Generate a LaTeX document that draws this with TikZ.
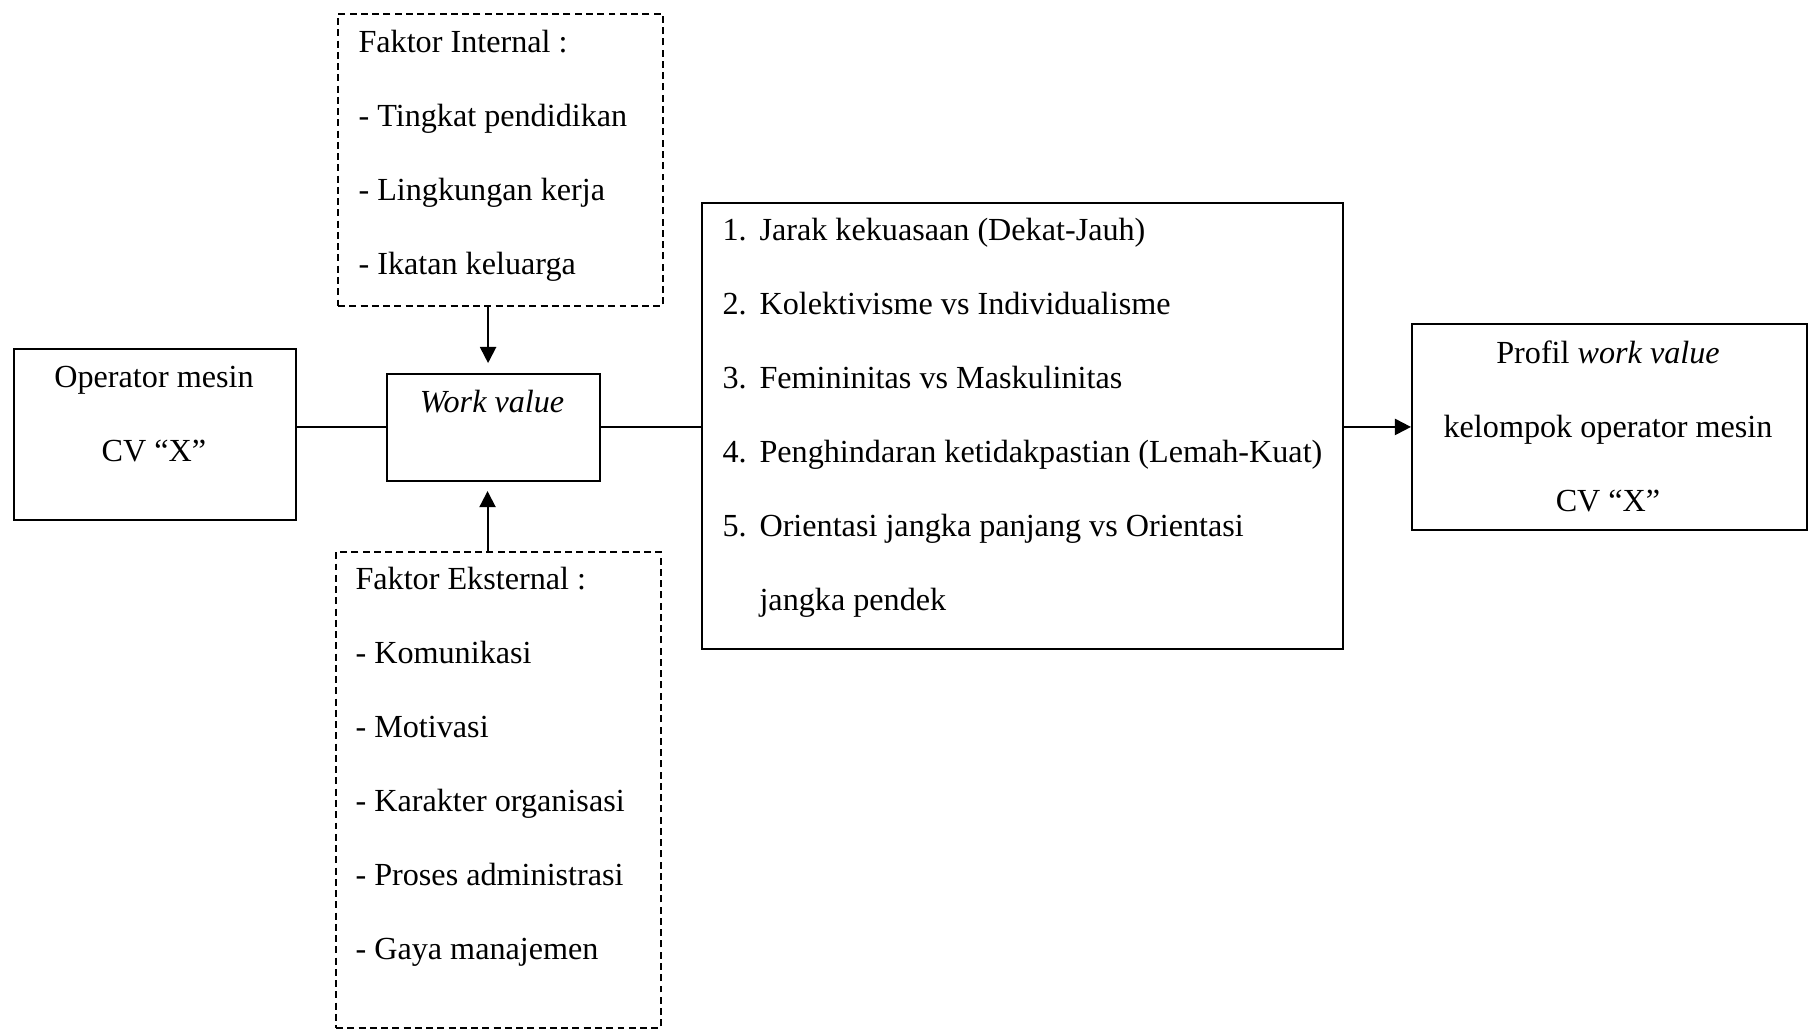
\documentclass[tikz,border=0pt]{standalone}
\usepackage{fontspec}
\setmainfont{Liberation Serif}
\usetikzlibrary{arrows.meta}
\tikzset{%
  >={Triangle[width=6pt,length=6pt]},
  % Specifications for style of boxes and texts:
       box/.style = {rectangle, draw=black, line width=0.75pt,
                     anchor=north west, inner sep=0pt},
   solidbox/.style = {box},
    dashbox/.style = {box, dash pattern=on 2.6pt off 1.6pt},
   boxtext/.style = {inner sep=0pt, font=\fontsize{12}{27.6}\selectfont},
  listtext/.style = {boxtext, align=left, anchor=north west},
      link/.style = {line width=0.75pt}
}
\newcommand{\itemno}[1]{\makebox[13.8pt][l]{#1}}

\begin{document}
\begin{tikzpicture}[x=0.373pt, y=-0.373pt]
  \useasboundingbox (0,0) rectangle (1810,1029);

  \node (operator) [solidbox, minimum width=105.2pt, minimum height=63.8pt] at (13,348) {};
  \node (wv)       [solidbox, minimum width=79.4pt,  minimum height=39.9pt] at (386,373) {};
  \node (internal) [dashbox,  minimum width=121.2pt, minimum height=108.9pt] at (337,13) {};
  \node (external) [dashbox,  minimum width=121.2pt, minimum height=177.5pt] at (335,551) {};
  \node (dimension)[solidbox, minimum width=239.1pt, minimum height=166.4pt] at (701,202) {};
  \node (profile)  [solidbox, minimum width=147.3pt, minimum height=76.8pt] at (1411,323) {};

  \node (operatortext) [boxtext, align=center, anchor=north] at (154,366)
        {Operator mesin\\CV “X”};
  \node (wvtext) [boxtext, anchor=base] at (492,413) {\textit{Work value}};
  \node (internaltext) [listtext] at (358,30)
        {Faktor Internal :\\- Tingkat pendidikan\\- Lingkungan kerja\\- Ikatan keluarga};
  \node (externaltext) [listtext] at (355,567)
        {Faktor Eksternal :\\- Komunikasi\\- Motivasi\\- Karakter organisasi\\- Proses administrasi\\- Gaya manajemen};
  \node (dimensiontext) [listtext] at (722,218)
        {\itemno{1.}Jarak kekuasaan (Dekat-Jauh)\\
         \itemno{2.}Kolektivisme vs Individualisme\\
         \itemno{3.}Femininitas vs Maskulinitas\\
         \itemno{4.}Penghindaran ketidakpastian (Lemah-Kuat)\\
         \itemno{5.}Orientasi jangka panjang vs Orientasi\\
         \itemno{}jangka pendek};
  \node (profiletext) [boxtext, align=center, anchor=north] at (1608,340)
        {Profil \textit{work value}\\kelompok operator mesin\\CV “X”};

    \draw[link]                    (operator.east |- wv.west) -- (wv.west);
    \draw[link]                    (wv.east) -- (wv.east -| dimension.west);
    \draw[link,->]                 (dimension.east |- profile.west) -- (profile.west);
    \draw[link,->,shorten >=3.7pt] ([xshift=-2pt]wv.north |- internal.south) -- ([xshift=-2pt]wv.north);
    \draw[link,->,shorten >=3.4pt] ([xshift=-2.2pt]wv.south |- external.north) -- ([xshift=-2.2pt]wv.south);
\end{tikzpicture}
\end{document}
